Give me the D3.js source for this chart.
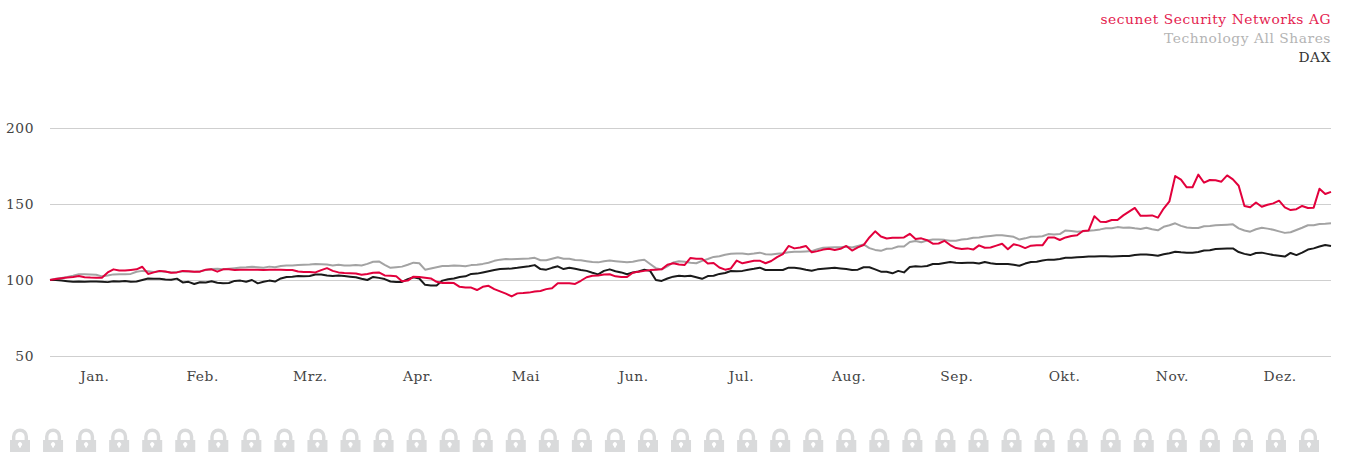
<!DOCTYPE html>
<html>
<head>
<meta charset="utf-8">
<script src="https://cdn.jsdelivr.net/npm/d3@7/dist/d3.min.js"></script>
<style>
  html, body { margin: 0; padding: 0; background: #fff; overflow: hidden; }
  svg { display: block; }
  text { font-family: "DejaVu Serif", serif; font-size: 13.8px; letter-spacing: 0.55px; }
  .axis path, .axis line { display: none; }
  .axis text { fill: #444; font-family: "DejaVu Serif", serif; font-size: 13.8px; }
</style>
</head>
<body>
<div id="chart"></div>
<script>
const months = ['Jan.', 'Feb.', 'Mrz.', 'Apr.', 'Mai', 'Jun.', 'Jul.', 'Aug.', 'Sep.', 'Okt.', 'Nov.', 'Dez.'];
const yTicks = [50, 100, 150, 200];
const seriesNames = ['secunet Security Networks AG', 'Technology All Shares', 'DAX'];

const secunet = [
  100, 100.6, 101.2, 101.6, 102, 102.6, 101.8, 101.6, 101.5, 101.5,
  105, 107, 106.2, 106.2, 106.6, 107, 108.7, 104, 105, 106,
  105.6, 104.8, 105, 106, 105.8, 105.5, 105.5, 106.8, 107, 105.5,
  107, 107, 106.6, 106.8, 106.8, 106.8, 106.8, 106.6, 106.8, 106.8,
  106.8, 106.6, 106.6, 105.6, 105.2, 105.2, 105, 106.5, 107.8, 106,
  105, 104.6, 104.5, 104.3, 103.4, 104, 104.8, 105, 103, 102.8,
  102.4, 99.2, 99.6, 102.2, 102, 101.5, 101, 98.8, 98, 98.2,
  98, 95.5, 95, 95, 93.4, 95.5, 96.2, 94, 92.5, 91,
  89.2, 91.2, 91.4, 91.7, 92.4, 92.8, 94, 94.5, 97.8, 97.8,
  97.8, 97.4, 99.5, 101.8, 102.8, 103, 103.6, 103.8, 102.4, 102,
  102, 104.8, 105.5, 106, 106.5, 106.8, 107, 110, 111, 110.2,
  109.9, 114.5, 114, 114, 110.8, 111.2, 108.2, 106.8, 107.6, 112.8,
  111, 111.8, 112.6, 112.7, 111, 112.5, 115, 117, 122.4, 120.8,
  121.4, 122.4, 118.2, 119, 120, 120.6, 119.7, 120.5, 122.4, 119.4,
  121.5, 123, 128, 132, 128.6, 127.3, 127.8, 127.8, 128, 130.4,
  127, 127.4, 126.2, 123.9, 124, 125.8, 123, 121, 120.4, 120.8,
  120, 122.8, 121.2, 121.4, 122.6, 123.8, 120.2, 123.5, 122.6, 121,
  122.6, 122.8, 122.8, 128, 128, 126.3, 128, 129, 129.4, 132.2,
  132.6, 142, 138.4, 138.2, 139.5, 139.5, 142.5, 145, 147.4, 142.2,
  142.2, 142.5, 141, 147, 151.8, 168.4, 166, 161, 161, 169.3,
  164, 165.8, 165.6, 164.7, 168.8, 166.2, 162, 148.7, 147.8, 151,
  148.2, 149.5, 150.4, 152.2, 147.8, 146, 146.6, 148.7, 147.4, 147.6,
  160, 156.6, 158
];

const techAllShares = [
  100, 100.8, 101.4, 102, 102.8, 103.8, 103.8, 103.6, 103.4, 102.4,
  103, 103.7, 103.8, 103.8, 104, 105.4, 106, 105.8, 105.2, 105.8,
  105.5, 105, 105.2, 105.6, 105.6, 105.4, 105.8, 106.6, 107.2, 107.4,
  107, 107.4, 107.8, 108.2, 108.4, 108.7, 108.4, 108, 108.8, 108.4,
  109.2, 109.6, 109.6, 109.8, 110, 110.2, 110.5, 110.4, 110.2, 109.6,
  110, 109.6, 109.6, 109.8, 109.6, 110.6, 112, 112.2, 110, 108,
  108.4, 108.8, 110, 111.4, 111, 106.8, 107.6, 108.4, 109.2, 109.2,
  109.6, 109.4, 109, 109.8, 110, 110.6, 111.4, 112.6, 113.4, 113.8,
  113.6, 113.8, 114, 114.2, 114.6, 113, 113, 114, 115, 114,
  114, 113.2, 113, 112.4, 111.8, 111.6, 112.4, 112.8, 112.4, 112,
  111.6, 112, 112.8, 113.3, 110.5, 107.8, 107, 109, 111.5, 112.4,
  112, 111.4, 111, 112.6, 113.8, 115.2, 115.6, 116.6, 117.2, 117.4,
  117.4, 116.9, 117.4, 118, 117, 116.8, 117.2, 117.6, 118.2, 118.6,
  118.6, 118.8, 119, 120.2, 121.2, 121.4, 121.6, 121.6, 122, 121.4,
  122.4, 123.4, 121, 119.8, 119.2, 120.6, 120.8, 122, 122, 125,
  125.6, 124.8, 126, 126.7, 126.6, 126.4, 125.8, 125.8, 126.6, 127,
  127.8, 128, 128.6, 129, 129.4, 129.4, 129, 128.4, 126.6, 127.4,
  128.5, 128.5, 128.8, 130.2, 130, 130.2, 132.6, 132.2, 131.8, 132,
  132.4, 132.8, 133.3, 134, 134, 134.8, 134.4, 134.6, 134, 133.5,
  134.4, 133.4, 132.7, 135, 136, 137.3, 135.6, 134.6, 134.2, 134.2,
  135.4, 135.6, 136, 136.2, 136.4, 136.6, 134, 132.6, 131.8, 133.4,
  134.4, 133.8, 133, 132, 131, 131.4, 132.9, 134.4, 136, 136,
  136.8, 137, 137.3
];

const dax = [
  100, 100, 99.6, 99.2, 98.8, 99, 98.9, 99, 99, 98.9,
  98.6, 99.2, 99, 99.4, 98.9, 99, 100, 101, 100.8, 100.8,
  100.4, 100.2, 100.9, 98.4, 98.8, 97.4, 98.5, 98.4, 99.2, 98.2,
  97.8, 98, 99.4, 99.6, 98.8, 100, 97.8, 98.8, 99.6, 99,
  101, 102, 102.2, 102.6, 102.4, 102.6, 103.6, 103.6, 103, 102.6,
  103, 102.6, 102.2, 101.8, 100.8, 100, 102, 101.4, 100.6, 99,
  98.7, 98.7, 100.6, 101.8, 101, 96.8, 96.4, 96.4, 99.6, 100.5,
  101, 102, 102.4, 104, 104.2, 105, 105.8, 106.6, 107.2, 107.4,
  107.6, 108, 108.6, 109, 109.8, 107.2, 106.8, 108, 109, 107.2,
  108, 107.4, 106.6, 106, 104.8, 103.7, 106, 107, 105.8, 105,
  103.8, 105, 105.6, 106.8, 106, 100, 99.4, 101, 102.2, 102.8,
  102.4, 102.8, 101.8, 100.8, 102.6, 102.8, 104, 104.6, 105.9, 105.8,
  106, 106.8, 107.4, 108.1, 106.6, 106.6, 106.6, 106.6, 108.1, 108.1,
  107.6, 106.8, 106.1, 107, 107.4, 107.8, 108, 107.6, 107.2, 106.6,
  106.8, 108.4, 108.4, 107, 105.5, 105.4, 104.4, 106, 105, 108.6,
  109, 108.8, 109.2, 110.5, 110.6, 111.2, 111.8, 111.4, 111.2, 111.4,
  111.4, 110.8, 111.8, 111, 110.6, 110.5, 110.5, 110, 109.4, 110.8,
  111.8, 112, 112.8, 113.4, 113.4, 113.8, 114.6, 114.6, 115, 115.2,
  115.4, 115.5, 115.6, 115.6, 115.4, 115.6, 115.8, 115.8, 116.4, 116.8,
  116.8, 116.4, 116, 117, 117.6, 118.6, 118.2, 118, 118, 118.4,
  119.4, 119.6, 120.4, 120.6, 120.8, 120.8, 118.4, 117.2, 116.4, 117.8,
  118, 117.2, 116.4, 116, 115.4, 117.8, 116.4, 118, 120, 120.8,
  122, 123, 122.4
];

const W = 1346;
const H = 454;
const PLOT = { l: 50, r: 1331, t: 128, b: 356 };
const COLORS = { red: '#e2003c', gray: '#a3a3a3', black: '#1a1a1a', grid: '#cfcfcf', lock: '#d9dadb' };

const svg = d3.select('#chart').append('svg')
  .attr('width', W)
  .attr('height', H)
  .attr('viewBox', `0 0 ${W} ${H}`);

const x = d3.scaleLinear().domain([0, secunet.length - 1]).range([PLOT.l, PLOT.r]);
const y = d3.scaleLinear().domain([50, 200]).range([PLOT.b, PLOT.t]);
const xMonth = d3.scaleBand().domain(months).range([41, 1334]);

// gridlines
svg.append('g')
  .selectAll('line')
  .data(yTicks)
  .enter().append('line')
  .attr('x1', PLOT.l)
  .attr('x2', PLOT.r)
  .attr('y1', d => y(d) + 0.5)
  .attr('y2', d => y(d) + 0.5)
  .attr('stroke', COLORS.grid)
  .attr('stroke-width', 1);

svg.append('g').attr('class', 'axis')
  .attr('transform', 'translate(37,0)')
  .call(d3.axisLeft(y).tickValues(yTicks).tickSize(0).tickPadding(3));

svg.append('g').attr('class', 'axis')
  .attr('transform', `translate(0,${PLOT.b + 12})`)
  .call(d3.axisBottom(xMonth).tickSize(0).tickPadding(3));

const line = d3.line()
  .x((d, i) => x(i))
  .y(d => y(d));

[[techAllShares, COLORS.gray], [dax, COLORS.black], [secunet, COLORS.red]].forEach(([values, color]) => {
  svg.append('path')
    .datum(values)
    .attr('fill', 'none')
    .attr('stroke', color)
    .attr('stroke-width', 2)
    .attr('stroke-linejoin', 'round')
    .attr('d', line);
});

// legend, top right
svg.append('g')
  .selectAll('text')
  .data(seriesNames)
  .enter().append('text')
  .attr('x', PLOT.r)
  .attr('y', (d, i) => 24 + i * 19)
  .attr('text-anchor', 'end')
  .attr('fill', (d, i) => ['#e4234f', '#b4b4b4', '#333'][i])
  .text(d => d);

// padlock strip along the bottom edge
const lockX = d3.scalePoint().domain(d3.range(40)).range([20, 1309]);
const lock = svg.append('g')
  .selectAll('g')
  .data(lockX.domain())
  .enter().append('g')
  .attr('transform', d => `translate(${lockX(d)},429)`);

lock.append('path')
  .attr('fill', 'none')
  .attr('stroke', COLORS.lock)
  .attr('stroke-width', 3.4)
  .attr('d', 'M-6.3,12V7.5a6.3,6.3 0 0 1 12.6,0V12');
lock.append('rect')
  .attr('x', -10).attr('y', 11)
  .attr('width', 20).attr('height', 12)
  .attr('fill', COLORS.lock);
lock.append('path')
  .attr('fill', '#fff')
  .attr('d', 'M-1,18.5h2v-1.6a2,2 0 1 0 -2,0z');
</script>
</body>
</html>
